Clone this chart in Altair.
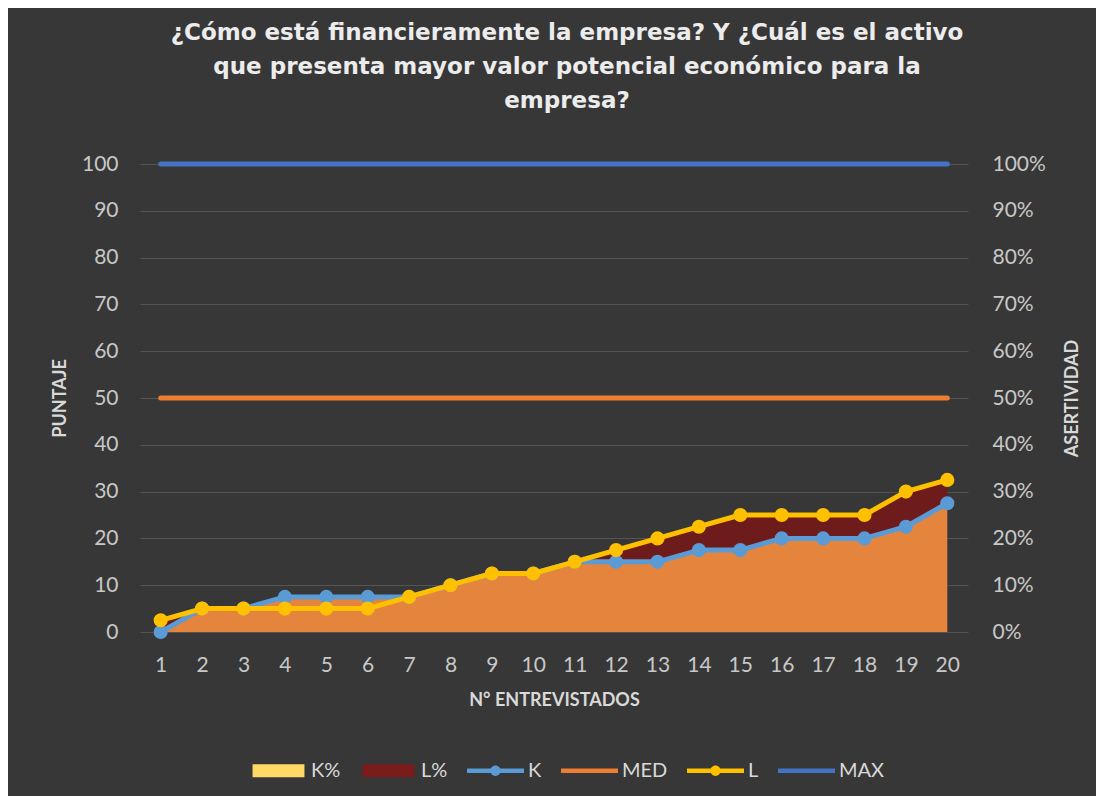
import altair as alt
import pandas as pd

# ---- data ----
entrevistados = [1, 2, 3, 4, 5, 6, 7, 8, 9, 10, 11, 12, 13, 14, 15, 16, 17, 18, 19, 20]
k_puntaje = [0, 5, 5, 7.5, 7.5, 7.5, 7.5, 10, 12.5, 12.5, 15, 15, 15, 17.5, 17.5, 20, 20, 20, 22.5, 27.5]
l_puntaje = [2.5, 5, 5, 5, 5, 5, 7.5, 10, 12.5, 12.5, 15, 17.5, 20, 22.5, 25, 25, 25, 25, 30, 32.5]
k_pct = [0.0, 0.05, 0.05, 0.075, 0.075, 0.075, 0.075, 0.10, 0.125, 0.125, 0.15, 0.15, 0.15, 0.175, 0.175, 0.20, 0.20, 0.20, 0.225, 0.275]
l_pct = [0.025, 0.05, 0.05, 0.05, 0.05, 0.05, 0.075, 0.10, 0.125, 0.125, 0.15, 0.175, 0.20, 0.225, 0.25, 0.25, 0.25, 0.25, 0.30, 0.325]
med = [50, 50, 50, 50, 50, 50, 50, 50, 50, 50, 50, 50, 50, 50, 50, 50, 50, 50, 50, 50]
maximo = [100, 100, 100, 100, 100, 100, 100, 100, 100, 100, 100, 100, 100, 100, 100, 100, 100, 100, 100, 100]

puntaje_ticks = [0, 10, 20, 30, 40, 50, 60, 70, 80, 90, 100]
pct_ticks = [0, 0.1, 0.2, 0.3, 0.4, 0.5, 0.6, 0.7, 0.8, 0.9, 1.0]

series = ["K%", "L%", "K", "MED", "L", "MAX"]
series_colors = ["#FFD966", "#7B1C1C", "#5B9BD5", "#ED7D31", "#FFC000", "#4472C4"]
RECT = "M-0.91,-0.23H0.91V0.23H-0.91Z"
LINE_DOT = "M-1,-0.075H1V0.075H-1Z M0.18,0A0.18,0.18,0,1,1,-0.18,0A0.18,0.18,0,1,1,0.18,0Z"
LINE = "M-1,-0.08H1V0.08H-1Z"
series_shapes = [RECT, RECT, LINE_DOT, LINE, LINE_DOT, LINE]

title_lines = [
    "¿Cómo está financieramente la empresa? Y ¿Cuál es el activo",
    "que presenta mayor valor potencial económico para la",
    "empresa?",
]

df = pd.DataFrame({
    "n": entrevistados,
    "K": k_puntaje,
    "L": l_puntaje,
    "Kp": k_pct,
    "Lp": l_pct,
    "MED": med,
    "MAX": maximo,
})

FONT = "Lato"
LABEL_COLOR = "#c8c8c8"
TITLE_COLOR = "#d9d9d9"

base = alt.Chart(df)

x_enc = alt.X(
    "n:Q",
    scale=alt.Scale(domain=[0.5, 20.5], nice=False, zero=False),
    axis=alt.Axis(
        values=entrevistados, format="d", title="N° ENTREVISTADOS",
        grid=False, ticks=False, domain=False, labelPadding=22, titlePadding=16,
        labelFont=FONT, labelFontSize=21, labelColor=LABEL_COLOR,
        titleFont=FONT, titleFontSize=18, titleFontWeight="bold", titleColor=TITLE_COLOR,
    ),
)

pct_scale = alt.Scale(domain=[0, 1], nice=False)
pct_axis = alt.Axis(
    orient="right", values=pct_ticks, format=".0%", title="ASERTIVIDAD",
    grid=False, ticks=False, domain=False, labelPadding=24, titlePadding=36,
    titleAngle=270,
    labelFont=FONT, labelFontSize=21, labelColor=LABEL_COLOR,
    titleFont=FONT, titleFontSize=18, titleFontWeight="bold", titleColor=TITLE_COLOR,
)

score_scale = alt.Scale(domain=[0, 100], nice=False)
score_axis = alt.Axis(
    orient="left", values=puntaje_ticks, format="d", title="PUNTAJE",
    grid=True, gridColor="#545454", gridWidth=1, ticks=False, domain=False,
    labelPadding=22, titlePadding=12,
    labelFont=FONT, labelFontSize=21, labelColor=LABEL_COLOR,
    titleFont=FONT, titleFontSize=18, titleFontWeight="bold", titleColor=TITLE_COLOR,
)

area_l = base.mark_area(color="#6E1B1B", opacity=1).encode(
    x=x_enc, y=alt.Y("Lp:Q", scale=pct_scale, axis=pct_axis)
)
area_k = base.mark_area(color="#E5853D", opacity=1).encode(
    x=x_enc, y=alt.Y("Kp:Q", scale=pct_scale, axis=pct_axis)
)

def line_layer(field, color, dots):
    kw = dict(color=color, strokeWidth=5, strokeCap="round", strokeJoin="round")
    if dots:
        kw["point"] = alt.OverlayMarkDef(filled=True, size=200, color=color, opacity=1)
    return base.mark_line(**kw).encode(
        x=x_enc, y=alt.Y(f"{field}:Q", scale=score_scale, axis=score_axis)
    )

line_k = line_layer("K", "#5B9BD5", True)
line_med = line_layer("MED", "#ED7D31", False)
line_l = line_layer("L", "#FFC000", True)
line_max = line_layer("MAX", "#4472C4", False)

leg = alt.Legend(
    title=None, orient="none", direction="horizontal", legendX=110, legendY=578,
    symbolSize=3249, symbolStrokeWidth=0, labelFont=FONT, labelFontSize=20,
    labelColor="#d9d9d9", labelOffset=4, columnPadding=19, padding=0,
)
legend_layer = (
    alt.Chart(pd.DataFrame({"serie": series}))
    .transform_filter("false")
    .mark_point(filled=True, opacity=1)
    .encode(
        color=alt.Color("serie:N", scale=alt.Scale(domain=series, range=series_colors), legend=leg),
        shape=alt.Shape("serie:N", scale=alt.Scale(domain=series, range=series_shapes), legend=leg),
    )
)

areas = alt.layer(area_l, area_k)
lines = alt.layer(line_k, line_med, line_l, line_max, legend_layer)

chart = (
    alt.layer(areas, lines)
    .resolve_scale(y="independent")
    .properties(
        width=828,
        height=468,
        autosize=alt.AutoSizeParams(type="none"),
        padding={"left": 132, "top": 156, "right": 128, "bottom": 164},
        background="#373737",
        title=alt.TitleParams(
            text=title_lines, font="DejaVu Sans", fontSize=23, fontWeight="bold",
            color="#ececec", lineHeight=34, anchor="middle", offset=40, dx=13,
        ),
    )
    .configure_view(stroke=None)
)

chart.save("out.html", embed_options={"renderer": "svg", "actions": False})
